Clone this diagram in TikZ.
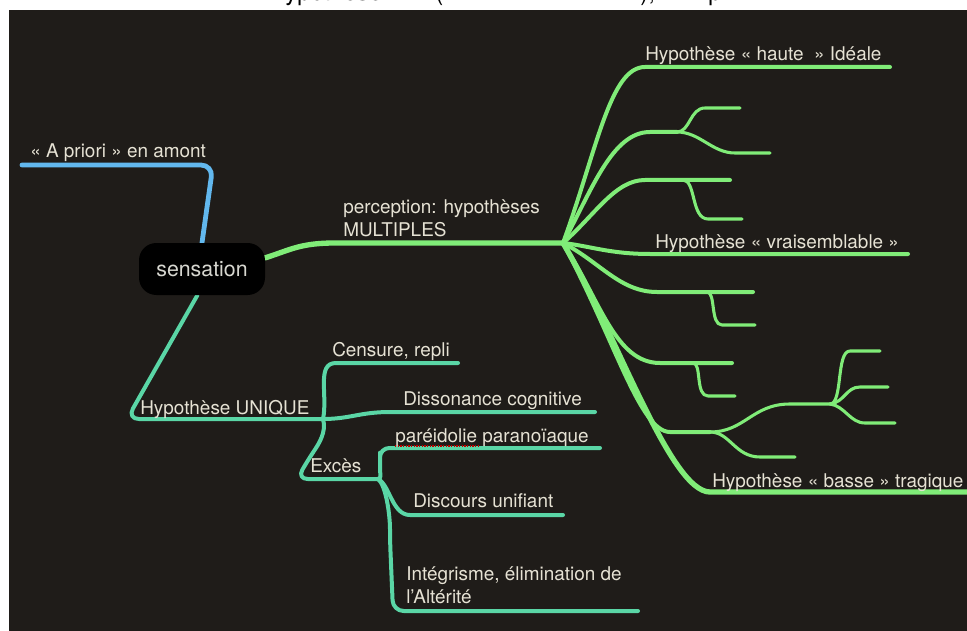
\documentclass[tikz,border=0pt]{standalone}
\usepackage{fontspec}
\setmainfont{TeX Gyre Heros}
\definecolor{bgc}{RGB}{31,28,25}
\definecolor{grc}{RGB}{128,236,120}
\definecolor{tlc}{RGB}{90,214,166}
\definecolor{blc}{RGB}{98,184,238}
\definecolor{txtc}{RGB}{230,226,212}
\definecolor{senc}{RGB}{215,215,208}
\pgfdeclarelayer{back}
\pgfdeclarelayer{lines}
\pgfsetlayers{back,lines,main}
\begin{document}
\begin{tikzpicture}[x=0.75pt,y=-0.75pt,
  lbl/.style={text=txtc, font=\fontsize{14.2}{17}\selectfont, inner sep=0pt, anchor=base west},
  ttl/.style={text=black, font=\fontsize{18}{21}\selectfont, inner sep=0pt, anchor=base west},
  gtrunk/.style={draw=grc, line width=4pt, line cap=round, line join=round},
  gbr/.style={draw=grc, line width=3pt, line cap=round, line join=round},
  gleaf/.style={draw=grc, line width=2.3pt, line cap=round, line join=round},
  tl/.style={draw=tlc, line width=3pt, line cap=round, line join=round},
  bl/.style={draw=blc, line width=3.6pt, line cap=round, line join=round},
  sensbox/.style={fill=black, rounded corners=13pt, minimum width=94.5pt, minimum height=39pt, text=senc, font=\fontsize{16}{19}\selectfont, inner sep=0pt}
]
\useasboundingbox (0,0) rectangle (967,631);
\begin{pgfonlayer}{back}
\fill[white] (0,0) rectangle (967,631);
\fill[bgc] (9,10) rectangle (967,631);
\end{pgfonlayer}

% clipped title fragments (only descenders are visible)
\begin{scope}
\clip (0,0) rectangle (967,10);
\node[ttl] (t1) at (285,0.5) {ypothèse};
\node[ttl] (t2) at (435,0.5) {(};
\node[ttl] (t3) at (640,0.5) {),};
\node[ttl] (t4) at (708,0.5) {p};
\end{scope}

% central node
\node[sensbox] (sens) at (202,269) {sensation};

% labels
\node[lbl] (ap) at (30,158) {« A priori » en amont};
\node[lbl, align=left] (perc) at (343,236) {perception: hypothèses\\MULTIPLES};
\node[lbl] (hh) at (645,61) {Hypothèse « haute\ \ » Idéale};
\node[lbl] (hv) at (655,248) {Hypothèse « vraisemblable »};
\node[lbl] (hb) at (712,487) {Hypothèse « basse » tragique};
\node[lbl] (un) at (140,414) {Hypothèse UNIQUE};
\node[lbl] (cen) at (332,356) {Censure, repli};
\node[lbl] (dis) at (403,405) {Dissonance cognitive};
\node[lbl] (ex) at (310,472) {Excès};
\node[lbl] (par) at (395,442) {paréidolie paranoïaque};
\node[lbl] (dsc) at (413,507) {Discours unifiant};
\node[lbl, align=left] (intg) at (406,603) {Intégrisme, élimination de\\l’Altérité};

% coordinates
\coordinate (apE) at (22,165);
\coordinate (apC) at (213,165);
\coordinate (m1) at (335,243);
\coordinate (hub) at (563,243);
\coordinate (h1a) at (645,67);  \coordinate (h1b) at (890,67);
\coordinate (h2a) at (650,132); \coordinate (j2) at (677,132);
\coordinate (h2ua) at (705,108); \coordinate (h2ub) at (740,108);
\coordinate (h2da) at (735,153); \coordinate (h2db) at (770,153);
\coordinate (h3a) at (645,180); \coordinate (j3) at (683,180); \coordinate (h3b) at (730,180);
\coordinate (h3da) at (708,219); \coordinate (h3db) at (742,219);
\coordinate (h4a) at (650,254); \coordinate (h4b) at (908,254);
\coordinate (h5a) at (657,292); \coordinate (j5) at (707,292); \coordinate (h5b) at (753,292);
\coordinate (h5da) at (722,325); \coordinate (h5db) at (755,325);
\coordinate (h6a) at (660,363); \coordinate (j6) at (693,363); \coordinate (h6b) at (732,363);
\coordinate (h6da) at (708,396); \coordinate (h6db) at (735,396);
\coordinate (h7a) at (670,432); \coordinate (j7) at (710,432);
\coordinate (h7ua) at (790,404); \coordinate (j7b) at (830,404);
\coordinate (h7ta) at (850,351); \coordinate (h7tb) at (880,351);
\coordinate (h7ma) at (860,387); \coordinate (h7mb) at (888,387);
\coordinate (h7ba) at (865,423); \coordinate (h7bb) at (895,423);
\coordinate (h7da) at (760,457); \coordinate (h7db) at (795,457);
\coordinate (h8a) at (710,492); \coordinate (h8b) at (975,492);
\coordinate (uc) at (127,419);
\coordinate (uj) at (323,419);
\coordinate (cenA) at (336,363); \coordinate (cenB) at (458,363);
\coordinate (disA) at (390,412); \coordinate (disB) at (595,412);
\coordinate (exC) at (297,479); \coordinate (ej) at (378,479);
\coordinate (parC) at (380,448); \coordinate (parB) at (600,448);
\coordinate (dscA) at (410,515); \coordinate (dscB) at (563,515);
\coordinate (intC) at (393,611); \coordinate (intB) at (638,611);

\begin{pgfonlayer}{lines}
% blue
\draw[bl, rounded corners=9pt] (apE) -- (apC) -- (sens.north);
% green main
\draw[gtrunk] (sens.10) .. controls (290,250) and (300,243) .. (m1) -- (hub);
% branch 1
\draw[gbr] (hub) .. controls (597,150) and (610,67) .. (h1a) -- (h1b);
% branch 2
\draw[gbr] (hub) .. controls (592,190) and (612,132) .. (h2a) -- (j2);
\draw[gleaf] (j2) .. controls (690,132) and (690,108) .. (h2ua) -- (h2ub);
\draw[gleaf] (j2) .. controls (700,132) and (712,153) .. (h2da) -- (h2db);
% branch 3
\draw[gbr] (hub) .. controls (595,215) and (615,180) .. (h3a) -- (h3b);
\draw[gleaf] (j3) .. controls (696,180) and (691,219) .. (h3da) -- (h3db);
% branch 4
\draw[gbr] (hub) .. controls (590,246) and (610,254) .. (h4a) -- (h4b);
% branch 5
\draw[gbr] (hub) .. controls (600,262) and (620,292) .. (h5a) -- (h5b);
\draw[gleaf] (j5) .. controls (716,292) and (710,325) .. (h5da) -- (h5db);
% branch 6
\draw[gbr] (hub) .. controls (600,300) and (615,363) .. (h6a) -- (h6b);
\draw[gleaf] (j6) .. controls (702,363) and (695,396) .. (h6da) -- (h6db);
% branch 7
\draw[gbr] (hub) .. controls (615,340) and (640,432) .. (h7a) -- (j7);
\draw[gleaf] (j7) .. controls (745,432) and (752,404) .. (h7ua) -- (j7b);
\draw[gleaf] (j7b) .. controls (843,404) and (836,351) .. (h7ta) -- (h7tb);
\draw[gleaf] (j7b) .. controls (845,402) and (846,387) .. (h7ma) -- (h7mb);
\draw[gleaf] (j7b) .. controls (845,406) and (850,423) .. (h7ba) -- (h7bb);
\draw[gleaf] (j7) .. controls (730,432) and (735,457) .. (h7da) -- (h7db);
% trunk / branch 8
\draw[gtrunk] (hub) .. controls (615,330) and (670,492) .. (h8a) -- (h8b);
% teal
\draw[tl, rounded corners=9pt] (sens.-100) -- (uc) -- (uj);
\draw[tl] (uj) .. controls (328,395) and (316,363) .. (cenA) -- (cenB);
\draw[tl] (uj) .. controls (350,419) and (360,412) .. (disA) -- (disB);
\draw[tl, rounded corners=8pt] (uj) .. controls (327,432) and (318,445) .. (308,460) -- (exC) -- (ej);
\draw[tl, rounded corners=7pt] (ej) .. controls (382,479) and (380,472) .. (380,462) -- (parC) -- (parB);
\draw[tl] (ej) .. controls (390,485) and (392,515) .. (dscA) -- (dscB);
\draw[tl, rounded corners=8pt] (ej) .. controls (386,485) and (390,515) .. (390,540) -- (intC) -- (intB);
% spell-check underline
\draw[red!75!black, line width=1pt, dash pattern=on 1pt off 1pt] (par.base west) ++(0,4) -- ++(83,0);
\end{pgfonlayer}
\end{tikzpicture}
\end{document}
